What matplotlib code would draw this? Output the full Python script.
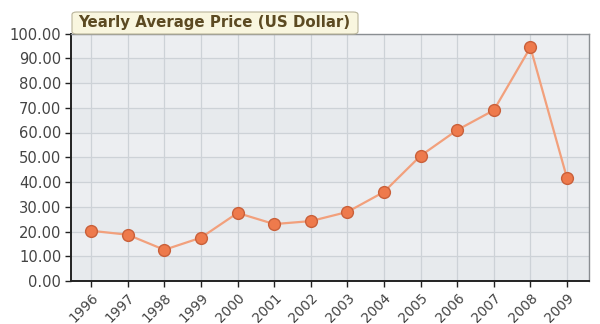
import matplotlib
matplotlib.use("Agg")
import matplotlib.pyplot as plt
from matplotlib.patches import FancyBboxPatch

# data
years = ["1996", "1997", "1998", "1999", "2000", "2001", "2002",
         "2003", "2004", "2005", "2006", "2007", "2008", "2009"]
prices = [20.3, 18.7, 12.6, 17.5, 27.5, 23.0, 24.2,
          27.9, 36.0, 50.6, 61.0, 69.0, 94.4, 41.5]
y_ticks = [0, 10, 20, 30, 40, 50, 60, 70, 80, 90, 100]
title = "Yearly Average Price (US Dollar)"

fig = plt.figure(figsize=(6.0, 3.24), dpi=100)
fig.patch.set_facecolor("white")

W, H = 600.0, 324.0
left, right, top, bottom = 71, 589, 33.5, 281
ax = fig.add_axes([left / W, 1 - bottom / H, (right - left) / W, (bottom - top) / H])
ax.set_facecolor("#e7eaed")

# subtle alternating bands
for i, lo in enumerate(y_ticks[:-1]):
    if i % 2 == 1:
        ax.axhspan(lo, y_ticks[i + 1], color="#eceef1", zorder=0, lw=0)

x = list(range(len(years)))
ax.plot(x, prices, color="#f2a07c", lw=1.6, zorder=3)
ax.plot(x, prices, ls="none", marker="o", ms=8.5, mfc="#ee7a4c",
        mec="#c9603a", mew=1.0, zorder=4)

ax.set_xlim(-0.55, len(years) - 1 + 0.6)
ax.set_ylim(0, 100)
ax.set_xticks(x)
ax.set_xticklabels(years, rotation=45, ha="right", rotation_mode="anchor",
                   fontsize=9.8, color="#444444")
ax.set_yticks(y_ticks)
ax.set_yticklabels([f"{v:.2f}" for v in y_ticks], fontsize=10.6, color="#444444")
ax.tick_params(axis="both", length=4, width=1, color="#222222", pad=3)

ax.grid(True, color="#cdd2d7", lw=0.9, zorder=1)
ax.set_axisbelow(True)
for side in ("left", "bottom"):
    ax.spines[side].set_color("#222222")
    ax.spines[side].set_linewidth(1.4)
for side in ("top", "right"):
    ax.spines[side].set_color("#8a8e92")
    ax.spines[side].set_linewidth(1.0)

# title tab, sitting on top of the plot frame
box = FancyBboxPatch((72 / W, 1 - 34 / H), (358 - 72) / W, 22 / H,
                     boxstyle="round,pad=0,rounding_size=0.008",
                     transform=fig.transFigure, facecolor="#f9f6df",
                     edgecolor="#b9b49a", lw=0.8, zorder=5)
fig.patches.append(box)
fig.text(78 / W, 1 - 23 / H, title, fontsize=10.8, fontweight="bold",
         color="#5c4a22", va="center", ha="left", zorder=6)

fig.savefig("out.png", dpi=100)
